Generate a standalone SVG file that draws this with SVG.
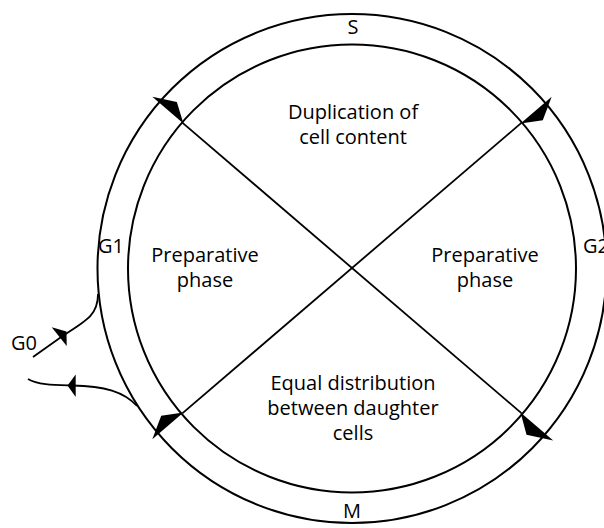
<svg xmlns="http://www.w3.org/2000/svg" width="604" height="528" viewBox="0 0 604 528">
<style>
.ring{fill:none;stroke:#000;stroke-width:2}
.ln{fill:none;stroke:#000;stroke-width:1.8}
.ah{fill:#000;stroke:none}
text{font-family:"Open Sans","Noto Sans","Liberation Sans",sans-serif;font-size:20px;fill:#000;text-anchor:middle}
</style>
<rect width="604" height="528" fill="#fff"/>
<g id="cycle">
<circle class="ring" cx="352" cy="268.5" r="254.5"/>
<circle class="ring" cx="352" cy="268.5" r="224"/>
</g>
<g id="connectors">
<line class="ln" x1="182.6" y1="122.9" x2="521.4" y2="413.1"/>
<line class="ln" x1="521.4" y1="122.9" x2="182.6" y2="413.1"/>
<g transform="translate(352,268) rotate(220.6)"><polygon class="ah" points="222,0 263,0 241,12"/></g>
<g transform="translate(352,268) rotate(-40.6)"><polygon class="ah" points="222,0 263,0 241,12"/></g>
<g transform="translate(352,268) rotate(40.6)"><polygon class="ah" points="222,0 265,0 241,13"/></g>
<g transform="translate(352,268) rotate(139.4)"><polygon class="ah" points="222,0 263,0 241,12"/></g>
<path class="ln" d="M98,294 C98,314 88,320 64,335 L33,357"/>
<polygon class="ah" points="51.7,327.3 66.7,346 66.5,331.5"/>
<path class="ln" d="M28,379 C38,385 55,385 72,385.5 C105,386 124,392 137,406"/>
<polygon class="ah" points="67.5,385.5 75.7,374.5 75.7,397"/>
</g>
<g id="S"><text x="353" y="34">S</text></g>
<g id="M"><text x="352" y="518">M</text></g>
<g id="G1"><text x="111" y="253">G1</text></g>
<g id="G2"><text x="596" y="253">G2</text></g>
<g id="G0"><text x="24" y="350">G0</text></g>
<g id="duplication"><text x="353" y="119">Duplication of</text><text x="353" y="144">cell content</text></g>
<g id="prep-left"><text x="205" y="262">Preparative</text><text x="205" y="287">phase</text></g>
<g id="prep-right"><text x="485" y="262">Preparative</text><text x="485" y="287">phase</text></g>
<g id="distribution"><text x="353" y="390">Equal distribution</text><text x="353" y="415">between daughter</text><text x="353" y="440">cells</text></g>
</svg>
